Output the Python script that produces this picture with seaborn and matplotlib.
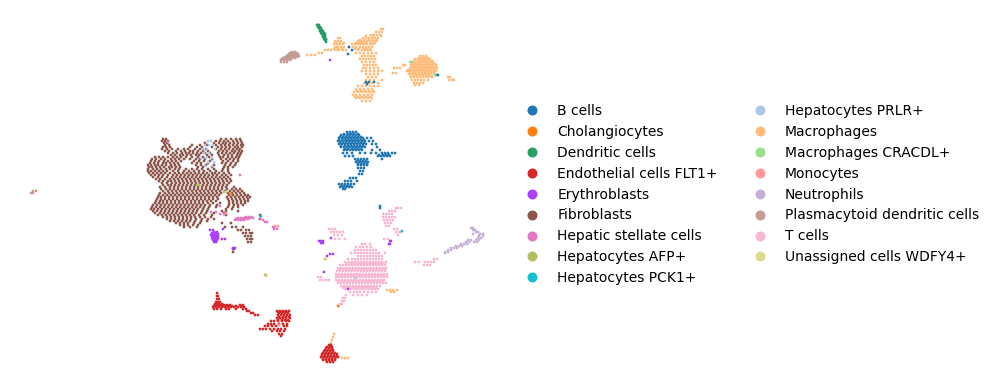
import pandas as pd
import matplotlib
matplotlib.use('Agg')
import matplotlib.pyplot as plt
import seaborn as sns

# cells, per cluster, as rows: (umap2, [umap1, ...])
fibroblasts = [
    (139, [163, 166, 221, 226, 231, 236, 240]),
    (141, [162, 165, 168, 216, 220, 224, 228, 233, 237, 241]),
    (143, [164, 167, 205, 214, 219, 223, 226, 230, 234, 238, 242]),
    (145, [165, 169, 192, 200, 207, 216, 221, 225, 229, 233, 237, 241, 243]),
    (147, [163, 166, 170, 190, 197, 202, 212, 218, 222, 226, 230, 235, 238, 242]),
    (149, [162, 167, 172, 178, 184, 188, 195, 200, 206, 216, 221, 225, 229, 233, 237, 240]),
    (151, [165, 169, 176, 181, 185, 190, 193, 198, 203, 208, 219, 223, 227, 232, 235, 239, 242]),
    (153, [168, 173, 177, 182, 186, 189, 193, 197, 201, 205, 210, 218, 222, 226, 230, 234, 238, 241]),
    (155, [171, 175, 180, 183, 187, 191, 196, 199, 207, 212, 219, 224, 228, 232, 237, 240]),
    (157, [155, 159, 163, 168, 173, 177, 181, 186, 192, 198, 203, 209, 220, 223, 228, 232, 236, 239]),
    (159, [152, 156, 161, 165, 171, 175, 179, 184, 190, 196, 200, 205, 212, 221, 226, 230, 234, 238]),
    (161, [151, 155, 159, 164, 168, 172, 176, 181, 194, 199, 204, 210, 223, 228, 233, 238]),
    (163, [150, 154, 158, 163, 166, 170, 174, 178, 192, 197, 201, 208, 222, 226, 231, 236]),
    (165, [148, 151, 155, 158, 162, 166, 171, 175, 179, 196, 201, 206, 214, 225, 230, 235]),
    (167, [149, 152, 156, 160, 164, 169, 172, 176, 180, 198, 203, 212, 224, 228, 233]),
    (169, [148, 153, 157, 161, 166, 170, 175, 179, 186, 192, 197, 202, 208, 214, 223, 228]),
    (171, [148, 151, 155, 159, 163, 167, 173, 178, 184, 189, 194, 199, 204, 210, 216, 222, 228]),
    (173, [149, 153, 157, 161, 165, 170, 175, 179, 183, 187, 191, 195, 199, 203, 207, 212, 215, 219, 224, 229]),
    (175, [151, 155, 159, 163, 168, 173, 177, 181, 185, 189, 193, 197, 201, 205, 209, 213, 217, 222, 226, 231]),
    (177, [153, 158, 162, 167, 172, 176, 180, 184, 188, 192, 196, 200, 204, 208, 212, 216, 220, 224, 228]),
    (179, [156, 160, 165, 170, 174, 178, 182, 186, 190, 194, 198, 202, 206, 210, 214, 218, 222, 226, 230]),
    (181, [159, 163, 168, 171, 175, 179, 183, 187, 191, 195, 199, 203, 207, 211, 215, 219, 223, 227, 231]),
    (183, [162, 167, 172, 176, 180, 184, 188, 192, 196, 200, 204, 208, 212, 216, 220, 224, 229]),
    (185, [163, 168, 171, 175, 179, 183, 187, 191, 195, 199, 203, 207, 211, 215, 219, 223, 227]),
    (187, [160, 165, 170, 174, 178, 182, 186, 190, 194, 198, 202, 206, 210, 214, 218, 222, 226, 234]),
    (189, [161, 166, 170, 174, 178, 182, 186, 190, 194, 198, 202, 206, 210, 214, 218, 222, 227, 232, 236, 240]),
    (191, [163, 168, 172, 176, 180, 184, 188, 192, 196, 200, 204, 208, 212, 216, 220, 225, 230, 234, 238, 242]),
    (193, [160, 165, 169, 173, 177, 181, 185, 189, 193, 197, 201, 205, 209, 213, 217, 221, 228, 232, 236, 240, 244]),
    (195, [159, 163, 167, 171, 175, 179, 183, 187, 191, 195, 199, 203, 207, 211, 215, 219, 229, 233, 237, 241, 245, 248]),
    (197, [158, 161, 165, 169, 173, 177, 181, 185, 189, 193, 197, 201, 205, 209, 213, 217, 227, 231, 235, 239, 243, 247, 250]),
    (199, [157, 161, 165, 169, 173, 177, 181, 185, 189, 193, 197, 201, 205, 209, 213, 218, 228, 232, 236, 240, 244, 248]),
    (201, [156, 160, 163, 167, 171, 175, 179, 183, 187, 191, 195, 199, 203, 207, 211, 216, 229, 233, 237, 241, 245, 248]),
    (203, [155, 159, 163, 167, 171, 175, 179, 183, 187, 191, 195, 199, 203, 208, 213, 220, 229, 233, 237, 241, 245]),
    (205, [153, 157, 161, 165, 169, 173, 177, 181, 185, 189, 193, 197, 201, 205, 210, 217, 229, 234, 238, 243]),
    (207, [152, 156, 160, 164, 168, 172, 176, 180, 184, 188, 192, 196, 200, 204, 209, 216, 228, 233, 238]),
    (209, [151, 154, 158, 162, 166, 170, 174, 178, 182, 186, 190, 194, 198, 203, 208, 226, 232]),
    (211, [153, 157, 161, 165, 169, 173, 177, 181, 185, 189, 193, 197, 202, 207, 222, 226, 238]),
    (213, [155, 160, 164, 168, 172, 176, 180, 184, 188, 192, 196, 201, 206, 214, 224]),
    (215, [158, 162, 166, 170, 174, 178, 182, 186, 190, 194, 199, 204, 212, 226, 260]),
    (217, [163, 167, 171, 175, 179, 183, 187, 191, 195, 200, 205, 211]),
    (219, [167, 171, 175, 179, 183, 187, 191, 196, 202, 208, 214, 260]),
    (221, [170, 174, 178, 182, 186, 190, 195, 201, 207]),
    (223, [176, 180, 184, 188, 194, 200, 222, 231]),
    (225, [180, 184, 188, 193, 198]),
    (227, [184, 190, 197, 225, 232, 236, 243]),
    (230, [238, 241, 246, 249]),
    (233, [243, 246, 250, 252]),
    (236, [245, 248, 251]),
    (239, [247, 250, 252]),
    (242, [248, 251]),
    (249, [233, 234]),
    (252, [233]),
]
t_cells = [
    (208, [401, 398, 396]), (211, [392, 395, 389]),
    (214, [383, 386, 389, 392]), (217, [383, 386, 389, 392, 395]),
    (220, [384, 387, 390, 393]), (223, [385, 388, 391]), (226, [386, 389]),
    (229, [329, 332, 335, 394, 397]), (232, [331, 334, 337, 340, 343, 396, 399, 401]),
    (235, [334, 338, 342, 398]), (239, [335, 339, 345, 384, 388]),
    (244, [362, 365, 370]), (247, [356, 360, 363, 367, 371]),
    (250, [355, 358, 361, 364, 367, 370, 373, 376]),
    (253, [351, 355, 358, 361, 364, 367, 370, 373, 376, 379, 385]),
    (256, [358, 361, 364, 367, 370, 373, 376, 379, 382]),
    (259, [348, 352, 355, 358, 361, 364, 367, 370, 373, 376, 379, 382, 434, 437]),
    (262, [345, 349, 352, 355, 358, 361, 364, 367, 370, 373, 376, 379, 382, 386, 425, 428, 431, 434, 415, 419]),
    (263.5, [347, 351, 354, 357, 360, 363, 366, 369, 372, 375, 378, 381, 384]),
    (265, [340, 343, 346, 349, 352, 355, 358, 361, 364, 367, 370, 373, 376, 379, 382, 385, 424, 427, 430]),
    (268, [338, 341, 344, 347, 350, 353, 356, 359, 362, 365, 368, 371, 374, 377, 380, 383, 386]),
    (269.5, [339, 343, 346, 349, 352, 355, 358, 361, 364, 367, 370, 373, 376, 379, 382, 385]),
    (271, [337, 340, 343, 346, 349, 352, 355, 358, 361, 364, 367, 370, 373, 376, 379, 382, 385]),
    (274, [336, 339, 342, 345, 348, 351, 354, 357, 360, 363, 366, 369, 372, 375, 378, 381, 384, 387]),
    (275.5, [337, 341, 344, 347, 350, 353, 356, 359, 362, 365, 368, 371, 374, 377, 380, 383, 386]),
    (277, [318, 321, 336, 339, 342, 345, 348, 351, 354, 357, 360, 363, 366, 369, 372, 375, 378, 381, 384, 387]),
    (280, [320, 323, 326, 329, 336, 339, 342, 345, 348, 351, 354, 357, 360, 363, 366, 369, 372, 375, 378, 381, 384]),
    (281.5, [338, 341, 344, 347, 350, 353, 356, 359, 362, 365, 368, 371, 374, 377, 380, 383]),
    (283, [338, 341, 344, 347, 350, 353, 356, 359, 362, 365, 368, 371, 374, 377, 380, 383, 386]),
    (286, [341, 344, 347, 350, 353, 356, 359, 362, 365, 368, 371, 374, 377, 380]),
    (287.5, [343, 346, 349, 352, 355, 358, 361, 364, 367, 370, 373, 376]),
    (289, [345, 348, 351, 354, 357, 360, 363, 366, 369, 372, 375, 378]),
    (292, [350, 354, 357, 360, 364, 368, 372, 376]),
    (295, [346, 353, 358, 362, 367]),
    (298, [343, 345]), (301, [342, 344]), (304, [340, 342]), (306, [339]),
]
macrophages = [
    (29, [381, 383]), (32, [376, 379, 382]), (35, [371, 374, 377, 380]),
    (36, [366, 373, 381]),
    (38, [338, 340, 363, 366, 369, 372, 375, 378]),
    (40, [360, 364, 369, 373, 377]),
    (41, [335, 338, 341, 358, 361, 364, 367, 370, 373, 376]),
    (43, [336, 340, 344, 356, 359, 362, 366, 371, 375]),
    (44, [334, 337, 340, 343, 352, 355, 358, 361, 364, 367, 370, 373]),
    (47, [335, 337, 338, 341, 344, 349, 353, 356, 360, 363, 366, 369, 372]),
    (49, [338, 342, 334, 355, 359, 364, 367, 370]),
    (50, [325, 328, 331, 336, 339, 343, 346, 358, 362, 365, 368, 371]),
    (53, [319, 322, 356, 360, 364, 368, 372, 376]),
    (55, [307, 311, 315]),
    (56, [362, 365, 368, 371, 374, 420, 423, 426]),
    (58, [419, 422, 425, 428]),
    (59, [360, 363, 366, 369, 372, 375, 415, 418, 421, 424, 427, 430]),
    (61, [414, 417, 420, 423, 426, 429, 432]),
    (62, [362, 366, 370, 374, 413, 416, 419, 422, 425, 428, 431, 433]),
    (64, [412, 415, 418, 421, 424, 427, 430, 433, 435]),
    (65, [364, 367, 370, 373, 376, 403, 405, 411, 414, 417, 420, 423, 426, 429, 432, 436]),
    (67, [412, 415, 418, 421, 424, 427, 430, 433, 436]),
    (68, [363, 366, 370, 374, 378, 394, 397, 400, 410, 413, 416, 419, 422, 425, 428, 431, 434, 437]),
    (70, [408, 411, 414, 417, 420, 423, 426, 429, 432, 435]),
    (71, [362, 366, 370, 374, 378, 382, 407, 410, 413, 416, 419, 422, 425, 428, 431, 434, 436]),
    (73, [393, 396, 410, 413, 416, 419, 422, 425, 428, 431, 434]),
    (74, [366, 370, 374, 378, 409, 412, 415, 418, 421, 424, 427, 430, 434]),
    (76, [411, 414, 417, 420, 423, 426, 429, 432]),
    (77, [368, 372, 376, 411, 414, 417, 420, 423, 426, 429, 432, 448, 450]),
    (80, [366, 370, 374, 382, 412, 415, 418, 421, 424, 428, 452, 454, 449]),
    (83, [364, 368, 372, 378, 414, 417, 420, 423]),
    (85, [415, 419]),
    (86, [358, 362, 366, 370, 374, 378]), (89, [356, 360, 364, 368, 372]),
    (91, [357, 361, 365, 369, 373]),
    (92, [354, 358, 362, 366, 370, 374]), (95, [353, 356, 360, 364, 368, 372]),
    (97, [355, 358, 362, 366, 370]),
    (98, [356, 360, 364, 368, 372]), (101, [362, 366, 370]),
    (290, [387, 390, 393, 397]), (292, [391, 394]),
    (334, [334]), (337, [333]), (340, [332]), (343, [331]),
    (358, [342, 345, 348]),
]
b_cells = [
    (132, [347, 350, 353, 356]),
    (134, [344, 348, 351, 354, 358]),
    (135, [341, 344, 347, 350, 353, 356, 359]),
    (137, [340, 343, 346, 349, 352, 355, 358, 361]),
    (138, [339, 342, 345, 348, 351, 354, 357, 360, 363, 367, 371]),
    (140, [339, 343, 346, 349, 352, 355, 358, 361, 364]),
    (141, [338, 341, 344, 347, 350, 353, 356, 359, 362, 365, 369, 373]),
    (143, [340, 343, 346, 349, 352, 355, 358, 361, 364]),
    (144, [339, 342, 345, 348, 351, 354, 357, 360, 363, 366, 372, 376]),
    (146, [341, 345, 348, 351, 354, 357, 360, 363]),
    (147, [341, 344, 347, 350, 353, 356, 359, 362, 365, 377]),
    (149, [345, 348, 352, 355, 358, 361]),
    (150, [344, 347, 350, 353, 356, 359, 362, 372, 380]),
    (153, [343, 347, 352, 360, 365, 371, 376, 382, 385, 388, 392, 395]),
    (155, [379, 383, 386, 389]),
    (156, [345, 349, 353, 378, 381, 384, 387, 390]),
    (159, [355, 358, 361, 364, 367, 382]),
    (161, [357, 360, 363, 366]),
    (162, [356, 359, 362, 365, 368]),
    (164, [358, 361, 364, 367]),
    (165, [358, 361, 364, 367]),
    (168, [358, 361, 364]),
    (171, [360, 363]),
    (174, [359, 362]),
    (178, [350, 353, 356]),
    (181, [345, 348, 351, 357]),
    (184, [339, 342, 345, 348, 351, 354]),
    (186, [341, 344, 347, 350]),
    (187, [340, 343, 346, 349, 352]),
    (189, [343, 345]),
    (47, [349]), (54, [348]), (50, [352]),
    (82, [366, 369, 374]), (84, [367]),
    (206, [380]), (208, [380]),
    (75, [436, 438]),
]
endothelial = [
    (293, [217]), (296, [217, 218]), (299, [217, 219]),
    (302, [216, 218, 220]),
    (304, [215, 217, 219, 222]),
    (305, [215, 218, 221, 224, 227, 230, 240, 243]),
    (306, [214, 217, 220, 223, 226, 229, 232, 236, 242]),
    (307, [213, 216, 219, 222, 225, 228, 231, 234, 238, 241, 244]),
    (309, [214, 217, 221, 226, 229, 236, 243, 246]),
    (311, [277, 280, 283, 286, 289, 247, 249]),
    (312, [278, 281, 284, 287]),
    (313, [279, 282, 285, 288, 251, 253]),
    (315, [278, 281, 284, 287, 290, 255, 258]),
    (317, [279, 283, 286, 289]),
    (318, [277, 280, 283, 286, 290]),
    (320, [278, 282, 285, 288]),
    (321, [271, 274, 278, 282, 286, 289]),
    (324, [268, 271, 274, 279, 283, 287]),
    (326, [265, 268, 272, 276, 284, 287]),
    (329, [260, 263, 266, 270, 274, 278, 281, 285]),
    (331, [272, 277, 280, 284]),
    (334, [279, 282]),
    (336, [281]),
    (345, [329, 331]),
    (347, [327, 330, 332]),
    (348, [326, 329, 332]),
    (350, [325, 328, 331, 333]),
    (351, [324, 327, 330, 333]),
    (353, [323, 326, 329, 332, 335]),
    (354, [322, 325, 328, 331, 334, 337]),
    (356, [322, 325, 328, 331, 334, 337]),
    (357, [321, 324, 327, 330, 333, 336, 338]),
    (359, [323, 326, 329, 332, 335]),
    (360, [323, 326, 329, 332, 335]),
    (362, [327, 330, 333]),
]
plasmacytoid = [
    (52, [292, 295]), (53, [290, 294, 297]), (54, [289, 292, 295, 298]),
    (55, [288, 291, 294, 297]), (56, [287, 290, 293, 296, 299]),
    (57, [285, 288, 291, 294, 297]), (58, [283, 286, 289, 292, 295]),
    (59, [282, 285, 288, 291]), (60, [281, 284, 287, 290]), (62, [281, 284, 287]),
]
dendritic = [
    (25, [317, 318, 319]), (27, [318, 320]), (28, [319, 320, 321]), (30, [320, 322]),
    (31, [320, 322, 323]), (33, [321, 323, 324]), (34, [322, 323, 325]), (36, [323, 325]),
    (37, [323, 325]), (39, [324, 326]), (40, [325, 326]), (42, [326]),
]
neutrophils = [
    (228, [471, 473]), (230, [473, 475]), (232, [476, 478]), (234, [480, 483, 473]),
    (236, [479, 483]), (238, [478, 481]), (240, [476, 479, 471, 468]),
    (242, [466, 469, 474, 477]), (244, [461, 464, 467]), (246, [456, 459, 462]),
    (248, [451, 454, 457]), (250, [448, 451]), (252, [445, 448]), (253, [445]),
]
stellate = [
    (217, [246, 249, 252]),
    (218, [238, 241, 244, 247, 250, 253, 260]),
    (219, [236, 239, 242, 245, 248]),
    (220, [235, 238, 241, 244, 263]),
    (222, [265, 267]),
    (214, [220, 224]), (206, [220]), (212, [211, 216]),
    (227, [273, 275]), (229, [274, 277]),
    (175, [240]), (142, [168]),
]
erythroblasts = [
    (230, [210, 213]), (232, [214, 217]), (233, [212, 216]), (234, [212, 215, 218]),
    (235, [211, 214, 217]), (236, [212, 214, 216, 218]), (237, [213, 215, 217]),
    (238, [212, 214, 216, 218]), (239, [213, 216]),
    (240, [213, 215, 217]), (242, [214, 216]),
    (239, [222, 225]), (229, [223]), (248, [233, 235]),
    (60, [330]),
    (241, [319, 321, 323]), (243, [321, 323]), (238, [331]), (244, [390, 389]),
    (241, [391, 390]), (254, [330, 333]), (256, [327]), (272, [324]), (289, [348]),
]
prlr = [
    (141, [208, 211]), (145, [205, 209, 213]), (149, [203, 207, 215]),
    (153, [204, 209]), (158, [201, 206, 212]), (162, [208, 214]), (166, [205, 212]),
    (278, [355]),
]
macrophages_cracdl = [(62, [410, 412]), (75, [435])]
monocytes = [(213, [226]), (325, [279]), (226, [275, 278])]
cholangiocytes = [(194, [231]), (275, [266]), (306, [338])]
afp = [(185, [197, 199]), (192, [224]), (275, [265]), (259, [325])]
pck1 = [(231, [402]), (216, [261])]
unassigned = [(259, [326]), (192, [226]), (276, [266])]
left_speck = [(191, [33, 36]), (193, [31, 33])]

clusters = [
    ('Fibroblasts', fibroblasts), ('T cells', t_cells), ('Macrophages', macrophages),
    ('B cells', b_cells), ('Endothelial cells FLT1+', endothelial),
    ('Plasmacytoid dendritic cells', plasmacytoid), ('Dendritic cells', dendritic),
    ('Neutrophils', neutrophils), ('Hepatic stellate cells', stellate),
    ('Erythroblasts', erythroblasts), ('Hepatocytes PRLR+', prlr),
    ('Macrophages CRACDL+', macrophages_cracdl), ('Monocytes', monocytes),
    ('Cholangiocytes', cholangiocytes), ('Hepatocytes AFP+', afp),
    ('Hepatocytes PCK1+', pck1), ('Unassigned cells WDFY4+', unassigned),
    ('Plasmacytoid dendritic cells', left_speck),
]
cell_types = ['B cells', 'Cholangiocytes', 'Dendritic cells', 'Endothelial cells FLT1+',
              'Erythroblasts', 'Fibroblasts', 'Hepatic stellate cells', 'Hepatocytes AFP+',
              'Hepatocytes PCK1+', 'Hepatocytes PRLR+', 'Macrophages', 'Macrophages CRACDL+',
              'Monocytes', 'Neutrophils', 'Plasmacytoid dendritic cells', 'T cells',
              'Unassigned cells WDFY4+']
colors = ['#1f77b4', '#ff7f0e', '#279e68', '#d62728', '#aa40fc', '#8c564b', '#e377c2', '#b5bd61',
          '#17becf', '#aec7e8', '#ffbb78', '#98df8a', '#ff9896', '#c5b0d5', '#c49c94', '#f7b6d2',
          '#dbdb8d']

records = []
for name, rows in clusters:
    for y, xs in rows:
        for x in xs:
            records.append({'UMAP1': x, 'UMAP2': y, 'cell_type': name})
df = pd.DataFrame(records)

fig = plt.figure(figsize=(9.94, 3.89), dpi=100)
ax = fig.add_axes([10 / 994, 0, 496 / 994, 1])
sns.scatterplot(data=df, x='UMAP1', y='UMAP2', hue='cell_type', hue_order=cell_types,
                palette=colors, s=4, linewidth=0, ax=ax)
ax.set_xlim(10, 506)
ax.set_ylim(389, 0)
ax.set_axis_off()

handles, labels = ax.get_legend_handles_labels()
ax.legend(handles, labels, ncol=2, frameon=False, loc='center left', bbox_to_anchor=(1, 0.5),
          markerscale=3.6, fontsize=10)

fig.savefig('out.png', dpi=100)
